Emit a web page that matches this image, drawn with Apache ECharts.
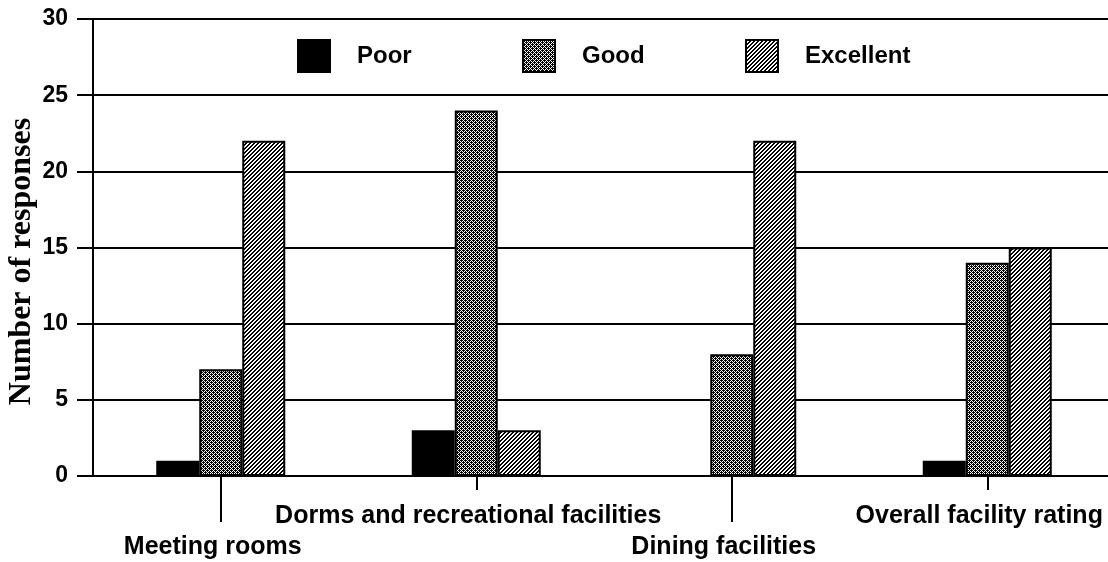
<!DOCTYPE html>
<html>
<head>
<meta charset="utf-8">
<script src="https://cdn.jsdelivr.net/npm/echarts@6/dist/echarts.min.js"></script>
<style>
  html, body { margin: 0; padding: 0; background: #fff; }
  #chart { width: 1108px; height: 562px; }
</style>
</head>
<body>
<div id="chart"></div>
<script>
// data
const categories = ['Meeting rooms', 'Dorms and recreational facilities', 'Dining facilities', 'Overall facility rating']
const poor = [1, 3, 0, 1]
const good = [7, 24, 8, 14]
const excellent = [22, 3, 22, 15]
const yTicks = [0, 5, 10, 15, 20, 25, 30]

// small pixel tiles used as fill patterns
function makeTile(size, test) {
  const c = document.createElement('canvas')
  c.width = size
  c.height = size
  const ctx = c.getContext('2d')
  ctx.fillStyle = '#fff'
  ctx.fillRect(0, 0, size, size)
  ctx.fillStyle = '#000'
  for (let x = 0; x < size; x++) {
    for (let y = 0; y < size; y++) {
      if (test(x, y)) ctx.fillRect(x, y, 1, 1)
    }
  }
  return c
}
// "////" stripes
const hatch = makeTile(4, (x, y) => (x + y) % 4 < 2)
// fine cross hatch, looks dark grey
const cross = makeTile(4, (x, y) => (x + y) % 2 === 0 || (x % 4 === 1 && y % 4 === 0) || (x % 4 === 3 && y % 4 === 2))

const sans = 'Liberation Sans'
const border = { borderColor: '#000', borderWidth: 2 }

const legendBase = {
  top: 34,
  itemWidth: 32,
  itemHeight: 32,
  icon: 'rect',
  textStyle: { fontFamily: sans, fontWeight: 'bold', fontSize: 24, color: '#000', padding: [0, 0, 0, 22] }
}

const catLabel = {
  fontFamily: sans,
  fontWeight: 'bold',
  fontSize: 25,
  color: '#000',
  padding: [0, 16, 0, 0]
}

const chart = echarts.init(document.getElementById('chart'))
chart.setOption({
  backgroundColor: '#fff',
  animation: false,
  legend: [
    Object.assign({ left: 292, data: ['Poor'] }, legendBase),
    Object.assign({ left: 517, data: ['Good'] }, legendBase),
    Object.assign({ left: 740, data: ['Excellent'] }, legendBase)
  ],
  grid: { left: 93, top: 19, bottom: 86, right: -7, outerBoundsMode: 'none', containLabel: false },
  xAxis: [
    {
      type: 'category',
      data: categories,
      position: 'bottom',
      axisLine: { show: true, lineStyle: { color: '#000', width: 2 } },
      axisTick: {
        show: true,
        alignWithLabel: true,
        length: 46,
        interval: (i) => i % 2 === 0,
        lineStyle: { color: '#000', width: 2 }
      },
      axisLabel: Object.assign({ interval: (i) => i % 2 === 0, margin: 59 }, catLabel)
    },
    {
      type: 'category',
      data: categories,
      position: 'bottom',
      axisLine: { show: false },
      axisTick: {
        show: true,
        alignWithLabel: true,
        length: 14,
        interval: (i) => i % 2 === 1,
        lineStyle: { color: '#000', width: 2 }
      },
      axisLabel: Object.assign({ interval: (i) => i % 2 === 1, margin: 28 }, catLabel)
    }
  ],
  yAxis: {
    type: 'value',
    min: yTicks[0],
    max: yTicks[yTicks.length - 1],
    interval: 5,
    name: 'Number of responses',
    nameLocation: 'middle',
    nameRotate: 90,
    nameGap: 55,
    nameMoveOverlap: false,
    nameTextStyle: {
      fontFamily: 'Liberation Serif',
      fontWeight: 'bold',
      fontSize: 32,
      color: '#000',
      padding: [0, 28, 0, 0]
    },
    axisLine: { show: true, lineStyle: { color: '#000', width: 2 } },
    axisTick: { show: true, length: 16, lineStyle: { color: '#000', width: 2 } },
    axisLabel: { margin: 25, fontFamily: sans, fontWeight: 'bold', fontSize: 23, color: '#000' },
    splitLine: { lineStyle: { color: '#000', width: 2 } }
  },
  series: [
    {
      name: 'Poor',
      type: 'bar',
      data: poor,
      barWidth: 43,
      barGap: '0%',
      itemStyle: Object.assign({ color: '#000' }, border)
    },
    {
      name: 'Good',
      type: 'bar',
      data: good,
      barWidth: 43,
      barGap: '0%',
      itemStyle: Object.assign({ color: { image: cross, repeat: 'repeat' } }, border)
    },
    {
      name: 'Excellent',
      type: 'bar',
      data: excellent,
      barWidth: 43,
      barGap: '0%',
      itemStyle: Object.assign({ color: { image: hatch, repeat: 'repeat' } }, border)
    }
  ]
})
</script>
</body>
</html>
